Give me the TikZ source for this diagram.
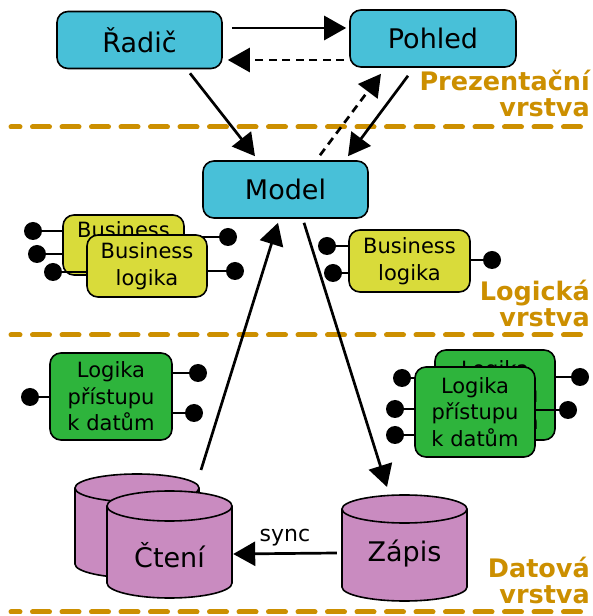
\documentclass[tikz,border=0pt]{standalone}
\usepackage{fontspec}
\setmainfont{DejaVu Sans}
\usetikzlibrary{arrows.meta,calc}

\definecolor{mvccyan}{RGB}{72,192,216}
\definecolor{bizyellow}{RGB}{217,219,58}
\definecolor{dalgreen}{RGB}{46,180,60}
\definecolor{dbpink}{RGB}{201,139,192}
\definecolor{layergold}{RGB}{204,143,0}

% database drum: centre x, top-ellipse y, bottom-ellipse y, x radius, y radius
\newcommand\dbdrum[5]{%
  \filldraw[db] (#1-#4,#2) -- (#1-#4,#3)
    arc[start angle=180,end angle=360,x radius=#4pt,y radius=#5pt]
    -- (#1+#4,#2)
    arc[start angle=0,end angle=180,x radius=#4pt,y radius=#5pt] -- cycle;
  \draw[db, fill=none] (#1-#4,#2)
    arc[start angle=180,end angle=360,x radius=#4pt,y radius=#5pt];
}

\begin{document}
\begin{tikzpicture}[x=1pt,y=1pt,
  box/.style={draw=black, line width=1.6pt, rounded corners=11pt, inner sep=0pt, align=center},
  mvc/.style={box, fill=mvccyan, minimum width=165pt, minimum height=57pt, font=\fontsize{27}{32}\selectfont},
  biz/.style={box, fill=bizyellow, minimum width=121pt, minimum height=62pt, font=\fontsize{21}{27}\selectfont},
  dal/.style={box, fill=dalgreen, minimum width=121pt, minimum height=88pt, font=\fontsize{21}{26.5}\selectfont},
  pin/.style={circle, fill=black, inner sep=0pt, minimum size=18pt},
  pinline/.style={line width=1.6pt},
  flow/.style={line width=2.7pt, -{Triangle[length=22pt,width=24pt]}},
  backflow/.style={flow, dash pattern=on 8pt off 5.5pt},
  layer/.style={draw=layergold, line width=5pt, line cap=round, dash pattern=on 17pt off 12.5pt, dash phase=8pt},
  layertext/.style={text=layergold, font=\fontsize{25.5}{26}\selectfont\bfseries, align=right, anchor=north east, inner sep=0pt},
  db/.style={draw=black, line width=1.6pt, fill=dbpink},
  dbtext/.style={inner sep=0pt, minimum width=125pt, font=\fontsize{27}{32}\selectfont}
]
\useasboundingbox (0,0) rectangle (592,616);

% layer separators
\coordinate (sepA) at (11,489);
\coordinate (sepB) at (11,281);
\coordinate (sepC) at (11,4);
\draw[layer] (sepA) -- (sepA -| 592,0);
\draw[layer] (sepB) -- (sepB -| 592,0);
\draw[layer] (sepC) -- (sepC -| 592,0);

% layer captions
\node[layertext] (capP) at (590,546) {Prezentační\\vrstva};
\node[layertext] (capL) at (590,336) {Logická\\vrstva};
\node[layertext] (capD) at (590,59) {Datová\\vrstva};

% presentation layer
\node[mvc] (radic) at (139.5,576) {Řadič};
\node[mvc, minimum width=166pt] (pohled) at (433,577.5) {Pohled};
\node[mvc] (model) at (285.5,426.5) {Model};

% business logic, stacked pair (back)
\node[pin] (b1) at (33,385) {};
\node[pin] (b2) at (37,362) {};
\node[pin] (b3) at (228,379) {};
\node[biz, minimum width=121pt, minimum height=60pt] (bizb) at (123.5,371) {Business\\logika};
\draw[pinline] (b1) -- (b1 -| bizb.west);
\draw[pinline] (b2) -- (b2 -| bizb.west);
\draw[pinline] (b3) -- (b3 -| bizb.east);
% business logic, stacked pair (front)
\node[pin] (b4) at (53,344) {};
\node[pin] (b5) at (235,345) {};
\draw[pinline] (b4) -- (b4 -| 87,0);
\draw[pinline] (b5) -- (b5 -| 207,0);
\node[biz, minimum width=120pt] (bizf) at (147,350) {Business\\logika};

% business logic, single
\node[pin] (c1) at (327,370) {};
\node[pin] (c2) at (333,343) {};
\node[pin] (c3) at (492,356) {};
\node[biz] (biz2) at (409.5,355) {Business\\logika};
\draw[pinline] (c1) -- (c1 -| biz2.west);
\draw[pinline] (c2) -- (c2 -| biz2.west);
\draw[pinline] (c3) -- (c3 -| biz2.east);

% data access logic, single
\node[pin] (d1) at (30,219) {};
\node[pin] (d2) at (198,243) {};
\node[pin] (d3) at (194,203) {};
\node[dal, minimum width=122pt, minimum height=87pt] (dal1) at (111,219.5) {Logika\\přístupu\\k datům};
\draw[pinline] (d1) -- (d1 -| dal1.west);
\draw[pinline] (d2) -- (d2 -| dal1.east);
\draw[pinline] (d3) -- (d3 -| dal1.east);

% data access logic, stacked pair (back)
\node[pin] (e1) at (402,238) {};
\node[pin] (e2) at (580,239) {};
\node[dal, minimum width=120pt, minimum height=90pt] (dalb) at (495,221) {Logika\\přístupu\\k datům};
\draw[pinline] (e1) -- (e1 -| dalb.west);
\draw[pinline] (e2) -- (e2 -| dalb.east);
% data access logic, stacked pair (front)
\node[pin] (e3) at (395,207) {};
\node[pin] (e4) at (395,181) {};
\node[pin] (e5) at (568,206) {};
\draw[pinline] (e3) -- (e3 -| 415,0);
\draw[pinline] (e4) -- (e4 -| 415,0);
\draw[pinline] (e5) -- (e5 -| 535,0);
\node[dal, minimum width=120pt, minimum height=90pt] (dalf) at (475,204) {Logika\\přístupu\\k datům};

% data layer: read replicas and the write store
\dbdrum{137}{128}{52}{62}{14}
\dbdrum{169.5}{110}{33}{62.5}{15}
\dbdrum{404.5}{107}{29}{62.5}{14}
\node[dbtext] (cteni) at (169.5,61) {Čtení};
\node[dbtext] (zapis) at (404.5,62) {Zápis};
\coordinate (ctenitop) at (169.5,125);
\coordinate (zapistop) at (404.5,121);

% connectors
\draw[flow] ([shift={(9,12)}]radic.east) -- ([shift={(-3,10.5)}]pohled.west);
\draw[backflow] ([shift={(-5,-21.5)}]pohled.west) -- ([shift={(5,-20)}]radic.east);
\draw[flow] ([shift={(50.5,-4)}]radic.south) -- ([shift={(-30.5,4)}]model.north);
\draw[flow] ([shift={(-25,-8)}]pohled.south) -- ([shift={(62.5,4)}]model.north);
\draw[backflow] ([shift={(34.5,5)}]model.north) -- ([shift={(-52,-6)}]pohled.south);
\draw[flow] ([shift={(18.5,-4)}]model.south) -- ([shift={(-17.5,8)}]zapistop);
\draw[flow] ([shift={(31.5,21)}]ctenitop) -- ([shift={(-7.5,-4)}]model.south);
\draw[flow] ([shift={(-5,1)}]zapis.west) -- node[above=3pt, font=\fontsize{22}{26}\selectfont] (synclbl) {sync} ([shift={(1,1)}]cteni.east);

\end{tikzpicture}
\end{document}
